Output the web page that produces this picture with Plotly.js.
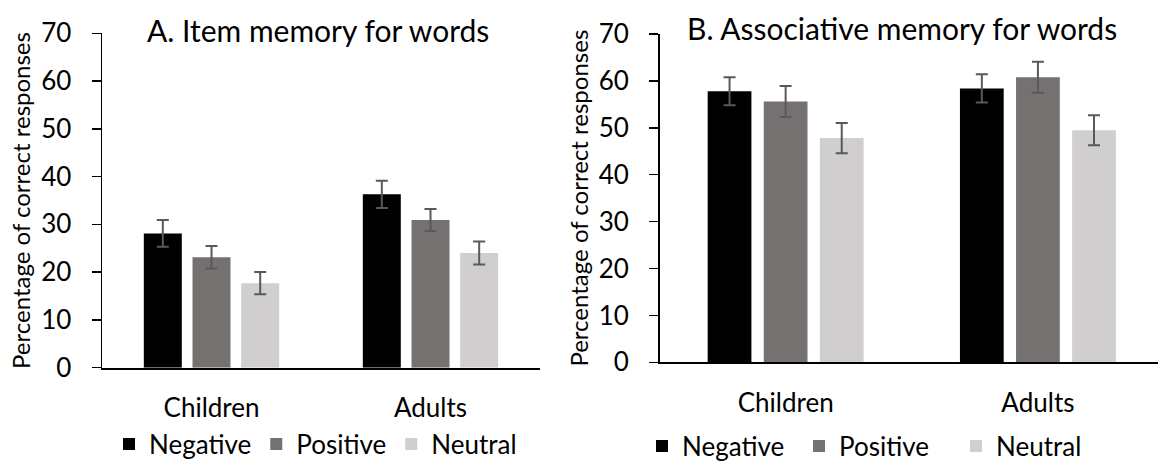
<!DOCTYPE html>
<html>
<head>
<meta charset="utf-8">
<script src="https://cdn.plot.ly/plotly-3.0.1.min.js"></script>
<style>html,body{margin:0;padding:0;background:#fff;overflow:hidden}#chart{width:1158px;height:464px}</style>
</head>
<body>
<div id="chart"></div>
<script>
const groups = ['Children', 'Adults'];
const seriesNames = ['Negative', 'Positive', 'Neutral'];
const colors = ['#000000', '#767171', '#d0cece'];

// Panel A: Item memory for words
const itemNegative = [28.1, 36.3];
const itemNegativeErr = [2.8, 2.85];
const itemPositive = [23.1, 30.9];
const itemPositiveErr = [2.35, 2.3];
const itemNeutral = [17.7, 24.0];
const itemNeutralErr = [2.35, 2.4];

// Panel B: Associative memory for words
const assocNegative = [57.8, 58.4];
const assocNegativeErr = [3.0, 3.0];
const assocPositive = [55.6, 60.8];
const assocPositiveErr = [3.3, 3.3];
const assocNeutral = [47.8, 49.5];
const assocNeutralErr = [3.2, 3.2];

const yTicks = [0, 10, 20, 30, 40, 50, 60, 70];
const titleA = 'A. Item memory for words';
const titleB = 'B. Associative memory for words';
const yTitle = 'Percentage of correct responses';

const FONT = 'Lato, "Open Sans", sans-serif';

function bar(name, vals, errs, color, xa, ya, legend) {
  return {
    type: 'bar', name: name, x: groups, y: vals,
    xaxis: xa, yaxis: ya, legend: legend,
    marker: {color: color, line: {width: 0}},
    error_y: {type: 'data', array: errs, visible: true, color: '#595959', thickness: 2, width: 6},
    hoverinfo: 'skip'
  };
}

const dataA = [itemNegative, itemPositive, itemNeutral];
const errA = [itemNegativeErr, itemPositiveErr, itemNeutralErr];
const dataB = [assocNegative, assocPositive, assocNeutral];
const errB = [assocNegativeErr, assocPositiveErr, assocNeutralErr];

const traces = [];
for (let i = 0; i < 3; i++) traces.push(bar(seriesNames[i], dataA[i], errA[i], colors[i], 'x', 'y', 'legend'));
for (let i = 0; i < 3; i++) traces.push(bar(seriesNames[i], dataB[i], errB[i], colors[i], 'x2', 'y2', 'legend2'));

const W = 1158, H = 464;
const yAxisBase = {
  range: [0, 70], tickvals: yTicks, ticks: 'outside', ticklen: 9, tickwidth: 1.5, tickcolor: '#000',
  showline: true, linecolor: '#000', linewidth: 1.5, showgrid: false, zeroline: false,
  tickfont: {family: FONT, size: 26, color: '#000'}, ticklabelstandoff: 15,
  title: {text: yTitle, font: {family: FONT, size: 24, color: '#000'}, standoff: 3},
  fixedrange: true
};
const xAxisBase = {
  type: 'category', showline: true, linecolor: '#000', linewidth: 2, ticks: '', showgrid: false,
  tickfont: {family: FONT, size: 26, color: '#000'}, ticklabelstandoff: 16, fixedrange: true
};

const layout = {
  width: W, height: H,
  margin: {l: 0, r: 0, t: 0, b: 0, pad: 0, autoexpand: false},
  paper_bgcolor: '#fff', plot_bgcolor: '#fff',
  barmode: 'group', bargap: 0.333, bargroupgap: 0.22,
  font: {family: FONT, color: '#000'},
  xaxis: Object.assign({}, xAxisBase, {domain: [102 / W, 540 / W], anchor: 'y', range: [-0.5, 1.5]}),
  yaxis: Object.assign({}, yAxisBase, {domain: [(H - 367.7) / H, (H - 33.3) / H], anchor: 'x'}),
  xaxis2: Object.assign({}, xAxisBase, {domain: [659.5 / W, 1], anchor: 'y2', range: [-0.5, 1.476]}),
  yaxis2: Object.assign({}, yAxisBase, {domain: [(H - 362.3) / H, (H - 34) / H], anchor: 'x2'}),
  showlegend: true,
  legend: {orientation: 'h', x: 109 / W, xanchor: 'left', y: 1 - 444 / H, yanchor: 'middle',
    font: {family: FONT, size: 26, color: '#000'}, itemwidth: 30, traceorder: 'normal', bgcolor: 'rgba(0,0,0,0)'},
  legend2: {orientation: 'h', x: 642 / W, xanchor: 'left', y: 1 - 446 / H, yanchor: 'middle',
    font: {family: FONT, size: 26, color: '#000'}, itemwidth: 30, traceorder: 'normal', bgcolor: 'rgba(0,0,0,0)',
    entrywidth: 112, entrywidthmode: 'pixels'},
  annotations: [
    {text: titleA, xref: 'paper', yref: 'paper', x: 318 / W, y: 1 - 30 / H, xanchor: 'center', yanchor: 'middle',
      showarrow: false, font: {family: FONT, size: 30, color: '#000'}},
    {text: titleB, xref: 'paper', yref: 'paper', x: 902 / W, y: 1 - 28 / H, xanchor: 'center', yanchor: 'middle',
      showarrow: false, font: {family: FONT, size: 30, color: '#000'}}
  ]
};

Plotly.newPlot('chart', traces, layout, {displayModeBar: false, staticPlot: true});
</script>
</body>
</html>
